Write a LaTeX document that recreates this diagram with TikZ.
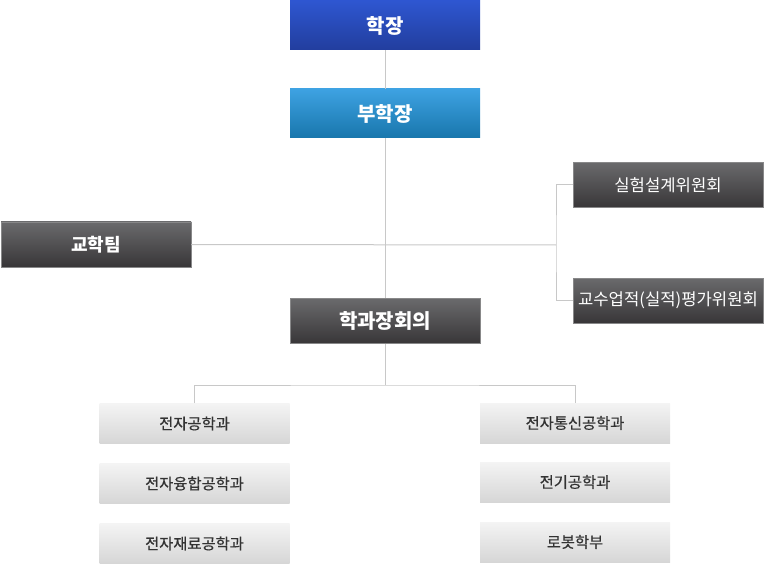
\documentclass[tikz,border=0pt]{standalone}
\usepackage{fontspec}
\setmainfont{Noto Sans CJK KR}
\newfontfamily\deptfont[FakeBold=0.6]{Noto Sans CJK KR}
\usepackage{tikz}

\definecolor{deanTop}{RGB}{46,86,208}
\definecolor{deanBot}{RGB}{34,62,158}
\definecolor{viceTop}{RGB}{62,162,226}
\definecolor{viceBot}{RGB}{24,118,172}
\definecolor{darkTop}{RGB}{106,106,108}
\definecolor{darkBot}{RGB}{56,54,56}
\definecolor{paleTop}{RGB}{244,244,244}
\definecolor{paleBot}{RGB}{214,214,214}
\definecolor{linkGray}{RGB}{200,200,200}

\begin{document}
\begin{tikzpicture}[x = 0.75pt, y = -0.75pt,
  headbox/.style = {minimum width = 142.5pt, minimum height = 36.75pt, inner sep = 0pt, text = white, font = \bfseries\fontsize{15}{18}\selectfont},
  darkbox/.style = {minimum width = 142.5pt, minimum height = 33.75pt, inner sep = 0pt, text = white, top color = darkTop, bottom color = darkBot, draw = darkTop!80, line width = 0.4pt},
  palebox/.style = {minimum width = 142.5pt, minimum height = 30pt, inner sep = 0pt, text = black!80, top color = paleTop, bottom color = paleBot, font = \deptfont\fontsize{11.5}{14}\selectfont},
  link/.style = {draw = linkGray, line width = 0.75pt}]
\useasboundingbox (0,0) rectangle (764,574);
% top of the chart
\node[headbox, top color = deanTop, bottom color = deanBot] (dean) at (385, 25.5) {학장};
\node[headbox, top color = viceTop, bottom color = viceBot] (vice) at (385, 113.5) {부학장};
% dark boxes
\node[darkbox, font = \bfseries\fontsize{13.5}{16}\selectfont] (office) at (96, 244.5) {교학팀};
\node[darkbox, font = \fontsize{12.5}{15}\selectfont] (lab) at (668, 185) {실험설계위원회};
\node[darkbox, font = \fontsize{12.5}{15}\selectfont] (merit) at (668, 300.5) {교수업적(실적)평가위원회};
\node[darkbox, font = \bfseries\fontsize{15}{18}\selectfont] (chairs) at (385, 321) {학과장회의};
% departments
\node[palebox] (ee) at (194.5, 423.5) {전자공학과};
\node[palebox] (conv) at (194.5, 483.5) {전자융합공학과};
\node[palebox] (mat) at (194.5, 543.5) {전자재료공학과};
\node[palebox] (comm) at (575, 423) {전자통신공학과};
\node[palebox] (elec) at (575, 482) {전기공학과};
\node[palebox] (robot) at (575, 542) {로봇학부};
% connectors
\coordinate (fork) at (556, 245);
\coordinate (split) at (385, 385);
\draw[link] (dean.south) -- (vice.north);
\draw[link] (vice.south) -- (chairs.north);
\draw[link] (office.east) -- (fork);
\draw[link] (lab.west) -| (fork) |- (merit.west);
\draw[link] (chairs.south) -- (split);
\draw[link] (ee.north) |- (split) -| (comm.north);
\end{tikzpicture}
\end{document}
